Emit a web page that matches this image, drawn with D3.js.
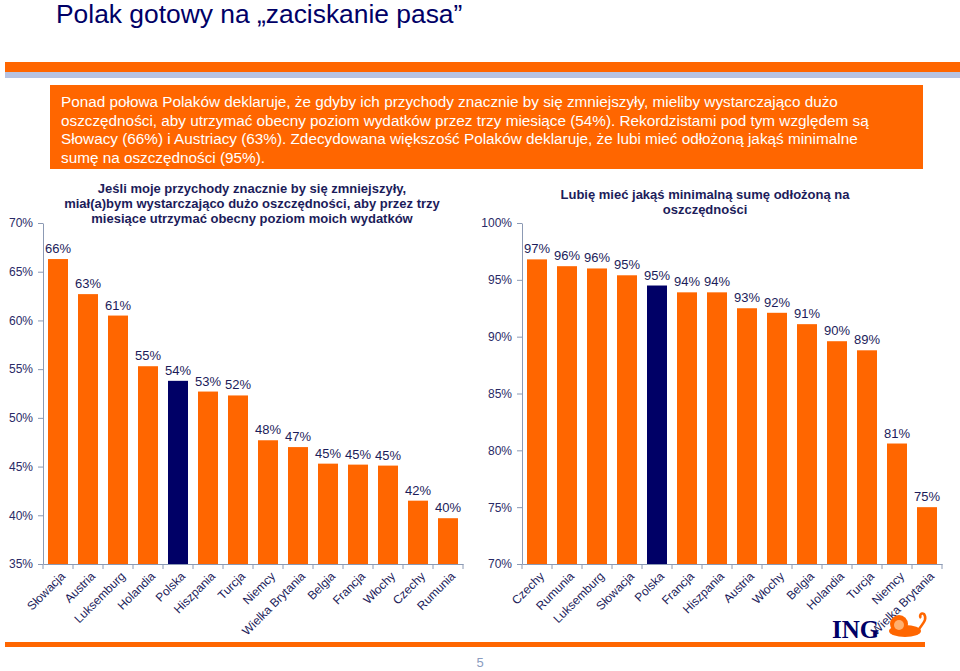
<!DOCTYPE html>
<html><head><meta charset="utf-8">
<script src="https://cdn.jsdelivr.net/npm/d3@7"></script>
<style>
html,body{margin:0;padding:0;background:#fff;}
svg{display:block;font-family:"Liberation Sans",Arial,sans-serif;}
</style></head>
<body><svg id="c" width="960" height="671"></svg>
<script>
// ---- data ----
const leftCategories = ["Słowacja","Austria","Luksemburg","Holandia","Polska","Hiszpania","Turcja","Niemcy","Wielka Brytania","Belgia","Francja","Włochy","Czechy","Rumunia"];
const leftValues = [66.3, 62.7, 60.5, 55.3, 53.8, 52.7, 52.3, 47.7, 47.0, 45.3, 45.2, 45.1, 41.5, 39.7];
const leftLabels = ["66%","63%","61%","55%","54%","53%","52%","48%","47%","45%","45%","45%","42%","40%"];
const leftTicks = [35, 40, 45, 50, 55, 60, 65, 70];

const rightCategories = ["Czechy","Rumunia","Luksemburg","Słowacja","Polska","Francja","Hiszpania","Austria","Włochy","Belgia","Holandia","Turcja","Niemcy","Wielka Brytania"];
const rightValues = [96.8, 96.2, 96.0, 95.4, 94.5, 93.9, 93.9, 92.5, 92.1, 91.1, 89.6, 88.8, 80.6, 75.0];
const rightLabels = ["97%","96%","96%","95%","95%","94%","94%","93%","92%","91%","90%","89%","81%","75%"];
const rightTicks = [70, 75, 80, 85, 90, 95, 100];

const highlight = "Polska";
const pageTitle = "Polak gotowy na „zaciskanie pasa”";
const boxLines = [
  "Ponad połowa Polaków deklaruje, że gdyby ich przychody znacznie by się zmniejszyły, mieliby wystarczająco dużo",
  "oszczędności, aby utrzymać obecny poziom wydatków przez trzy miesiące (54%). Rekordzistami pod tym względem są",
  "Słowacy (66%) i Austriacy (63%). Zdecydowana większość Polaków deklaruje, że lubi mieć odłożoną jakąś minimalne",
  "sumę na oszczędności (95%)."
];
const leftTitle = ["Jeśli moje przychody znacznie by się zmniejszyły,","miał(a)bym wystarczająco dużo oszczędności, aby przez trzy","miesiące utrzymać obecny poziom moich wydatków"];
const rightTitle = ["Lubię mieć jakąś minimalną sumę odłożoną na","oszczędności"];

// ---- style ----
const ORANGE = "#ff6600", NAVY = "#000066", TXT = "#1c1c5a", AXIS = "#8c9ab4";
const svg = d3.select("#c");

// header
svg.append("text").attr("x",56).attr("y",23).attr("font-size",26.4).attr("fill",NAVY).text(pageTitle);
svg.append("rect").attr("x",5).attr("y",62).attr("width",955).attr("height",10).attr("fill",ORANGE);
svg.append("rect").attr("x",5).attr("y",72).attr("width",955).attr("height",6).attr("fill","#b7c3e2");

// text box
svg.append("rect").attr("x",50).attr("y",85).attr("width",873).attr("height",84).attr("fill",ORANGE);
const bt = svg.append("text").attr("fill","#fff").attr("font-size",15.3);
boxLines.forEach((l,i)=>bt.append("tspan").attr("x",61).attr("y",107+i*18.5).text(l));

function chart(cfg){
  const g = svg.append("g");
  const x = d3.scaleBand().domain(cfg.cats).range(cfg.xr).paddingInner(1/3).paddingOuter(1/6);
  const y = d3.scaleLinear().domain(cfg.dom).range(cfg.yr);
  // y axis
  const ya = g.append("g").attr("transform",`translate(${cfg.xr[0]},0)`)
    .call(d3.axisLeft(y).tickValues(cfg.ticks).tickFormat(d=>d+"%").tickSize(5).tickSizeOuter(0).tickPadding(5));
  ya.select(".domain").attr("stroke",AXIS);
  ya.selectAll(".tick line").attr("stroke",AXIS);
  ya.selectAll(".tick text").attr("fill","#2a2a66").attr("font-size",12).attr("font-family","Liberation Sans, Arial, sans-serif");
  // bars
  g.selectAll("rect.bar").data(cfg.cats).join("rect").attr("class","bar")
    .attr("x",d=>x(d)).attr("width",x.bandwidth())
    .attr("y",(d,i)=>y(cfg.vals[i])).attr("height",(d,i)=>y(cfg.dom[0])-y(cfg.vals[i]))
    .attr("fill",d=>d===highlight?NAVY:ORANGE);
  // labels
  g.selectAll("text.lab").data(cfg.cats).join("text").attr("class","lab")
    .attr("x",d=>x(d)+x.bandwidth()/2).attr("y",(d,i)=>y(cfg.vals[i])-6)
    .attr("text-anchor","middle").attr("font-size",13).attr("fill",TXT)
    .text((d,i)=>cfg.labels[i]);
  // x axis
  const xa = g.append("g").attr("transform",`translate(0,${cfg.yr[0]})`)
    .call(d3.axisBottom(x).tickSize(0).tickSizeOuter(0).tickPadding(0));
  xa.select(".domain").attr("stroke",AXIS);
  xa.selectAll(".tick text").attr("font-size",12).attr("fill",TXT)
    .attr("font-family","Liberation Sans, Arial, sans-serif")
    .attr("text-anchor","end").attr("dy","0.35em")
    .attr("transform","translate(5,10) rotate(-45)");
  // boundary tick marks
  const step = x.step();
  const bounds = cfg.cats.map(d=>x(d)-step*x.paddingInner()/2).concat([x(cfg.cats[cfg.cats.length-1])+x.bandwidth()+step*x.paddingInner()/2]);
  g.selectAll("line.bt").data(bounds).join("line").attr("class","bt")
    .attr("x1",d=>d).attr("x2",d=>d).attr("y1",cfg.yr[0]).attr("y2",cfg.yr[0]+5).attr("stroke",AXIS);
  // title
  const t = g.append("text").attr("text-anchor","middle").attr("font-weight","bold").attr("font-size",13).attr("fill",TXT);
  cfg.title.forEach((l,i)=>t.append("tspan").attr("x",cfg.tx).attr("y",cfg.ty+i*15).text(l));
}

chart({cats:leftCategories, vals:leftValues, labels:leftLabels, ticks:leftTicks, dom:[35,70],
  xr:[43,463], yr:[564,223], title:leftTitle, tx:252, ty:193});
chart({cats:rightCategories, vals:rightValues, labels:rightLabels, ticks:rightTicks, dom:[70,100],
  xr:[522,942], yr:[564,223], title:rightTitle, tx:705, ty:199});

// footer
svg.append("rect").attr("x",5).attr("y",642).attr("width",920).attr("height",5).attr("fill",ORANGE);
svg.append("text").attr("x",480).attr("y",667).attr("text-anchor","middle").attr("font-size",13).attr("fill","#8a9cc0").text("5");
// ING logo
const logo = svg.append("g");
logo.append("text").attr("x",832).attr("y",638).attr("font-family","Liberation Serif, serif").attr("font-weight","bold")
  .attr("font-size",25).attr("fill",NAVY).text("ING");
logo.append("ellipse").attr("cx",905).attr("cy",631).attr("rx",16).attr("ry",6).attr("fill",ORANGE);
logo.append("circle").attr("cx",899).attr("cy",624).attr("r",9).attr("fill",ORANGE);
logo.append("circle").attr("cx",899).attr("cy",625).attr("r",5).attr("fill","#ffb070");
logo.append("path").attr("d","M917,632 C922,624 928,620 924,614 C921,612 919,616 921,618").attr("fill","none").attr("stroke",ORANGE).attr("stroke-width",2.5);
</script></body></html>
